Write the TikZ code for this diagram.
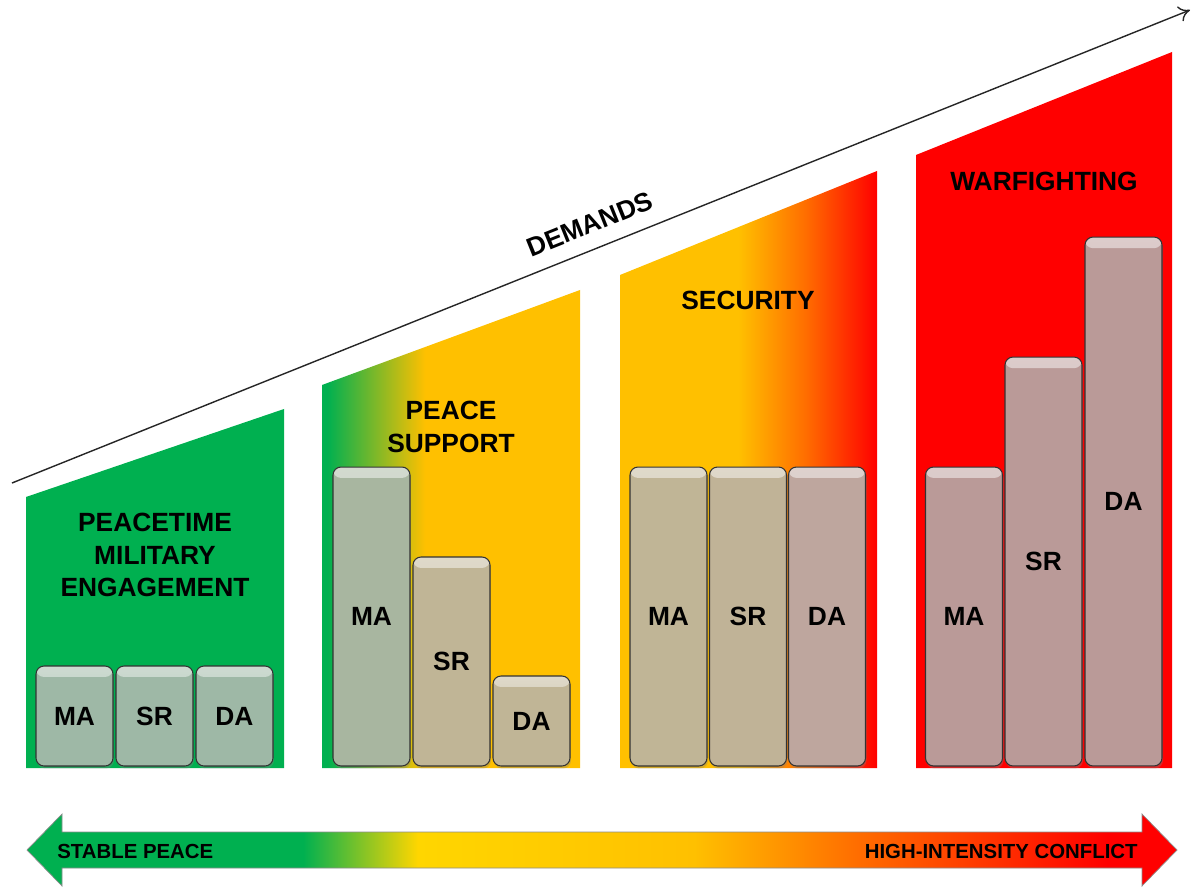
\documentclass[tikz,border=0pt]{standalone}
\usepackage{fontspec}
\setmainfont{Liberation Sans}
\usetikzlibrary{shadows, arrows.meta, fadings}

\definecolor{vert}{RGB}{0,176,80}
\definecolor{jaune}{RGB}{255,192,0}
\definecolor{orangef}{RGB}{255,110,0}
\definecolor{rouge}{RGB}{255,0,0}
\definecolor{jaunevif}{RGB}{255,214,0}
\definecolor{bvert}{RGB}{158,184,166}
\definecolor{bgris}{RGB}{168,182,160}
\definecolor{bbeige}{RGB}{192,181,150}
\definecolor{brose}{RGB}{190,166,158}
\definecolor{bmauve}{RGB}{186,154,152}

\pgfdeclarehorizontalshading{vertjaune}{100bp}{color(0bp)=(vert); color(26bp)=(vert); color(45bp)=(jaune); color(100bp)=(jaune)}
\pgfdeclarehorizontalshading{jaunerouge}{100bp}{color(0bp)=(jaune); color(48bp)=(jaune); color(61bp)=(orangef); color(75bp)=(rouge); color(100bp)=(rouge)}
\pgfdeclarehorizontalshading{paixconflit}{100bp}{color(0bp)=(vert); color(37bp)=(vert); color(42bp)=(jaunevif); color(54bp)=(jaune); color(61bp)=(orangef); color(72bp)=(rouge); color(100bp)=(rouge)}

\begin{document}
\begin{tikzpicture}[x=0.02cm, y=-0.02cm]
\tikzset{boite/.style={draw=black!80, line width=0.6pt, rounded corners=0.16cm, minimum width=1.54cm, inner sep=0pt, outer sep=0pt, font=\bfseries\fontsize{15}{17}\selectfont,
    drop shadow={opacity=0.35, shadow xshift=0.02cm, shadow yshift=-0.05cm},
    path picture={\fill[white, opacity=0.5, path fading=south] (path picture bounding box.north west) rectangle ([yshift=-0.22cm]path picture bounding box.north east);}},
  titre/.style={align=center, font=\bfseries\fontsize{15}{18.7}\selectfont, inner sep=0pt},
  bout/.style={font=\bfseries\fontsize{11.6}{13}\selectfont, inner sep=0pt}}
\useasboundingbox (0,0) rectangle (1200,888);

% panneaux
\fill[vert] (26,768) -- (26,497) -- (284,409) -- (284,768) -- cycle;
\shade[shading=vertjaune] (322,768) -- (322,385) -- (580,290) -- (580,768) -- cycle;
\shade[shading=jaunerouge] (620,768) -- (620,275) -- (877,171) -- (877,768) -- cycle;
\fill[rouge] (916,768) -- (916,155) -- (1172,52) -- (1172,768) -- cycle;

% demandes
\coordinate (D0) at (12,483);
\coordinate (D1) at (1190,10);
\draw[-{To[length=2.2mm, width=3.2mm]}, line width=0.8pt, black!85] (D0) -- (D1);
\node[font=\bfseries\fontsize{15}{17}\selectfont, rotate=21.9, inner sep=1pt] (dem) at (590,224) {DEMANDS};

% titres
\node[titre] (T1) at (155,555) {PEACETIME\\MILITARY\\ENGAGEMENT};
\node[titre] (T2) at (451,426.5) {PEACE\\SUPPORT};
\node[titre] (T3) at (748,300) {SECURITY};
\node[titre] (T4) at (1044,181) {WARFIGHTING};

% blocs
\node[boite, fill=bvert, minimum height=2cm] (MA1) at (74.5,716) {MA};
\node[boite, fill=bvert, minimum height=2cm] (SR1) at (154.5,716) {SR};
\node[boite, fill=bvert, minimum height=2cm] (DA1) at (234.5,716) {DA};

\node[boite, fill=bgris, minimum height=5.98cm] (MA2) at (371.5,616.5) {MA};
\node[boite, fill=bbeige, minimum height=4.18cm] (SR2) at (451.5,661.5) {SR};
\node[boite, fill=bbeige, minimum height=1.8cm] (DA2) at (531.5,721) {DA};

\node[boite, fill=bbeige, minimum height=5.98cm] (MA3) at (668.5,616.5) {MA};
\node[boite, fill=bbeige!90!brose, minimum height=5.98cm] (SR3) at (748,616.5) {SR};
\node[boite, fill=brose, minimum height=5.98cm] (DA3) at (827,616.5) {DA};

\node[boite, fill=bmauve, minimum height=5.98cm] (MA4) at (964,616.5) {MA};
\node[boite, fill=bmauve, minimum height=8.18cm] (SR4) at (1043.5,561.5) {SR};
\node[boite, fill=bmauve, minimum height=10.58cm] (DA4) at (1123.5,501.5) {DA};

% fleche paix / conflit
\shade[shading=paixconflit, draw=black!45, line width=0.4pt] (27,850) -- (62,814) -- (62,832) -- (1142,832) -- (1142,814) -- (1177,850) -- (1142,886) -- (1142,868) -- (62,868) -- (62,886) -- cycle;
\node[bout, anchor=west] (paix) at (57,851) {STABLE PEACE};
\node[bout, anchor=east] (conflit) at (1138,851) {HIGH-INTENSITY CONFLICT};
\end{tikzpicture}
\end{document}
